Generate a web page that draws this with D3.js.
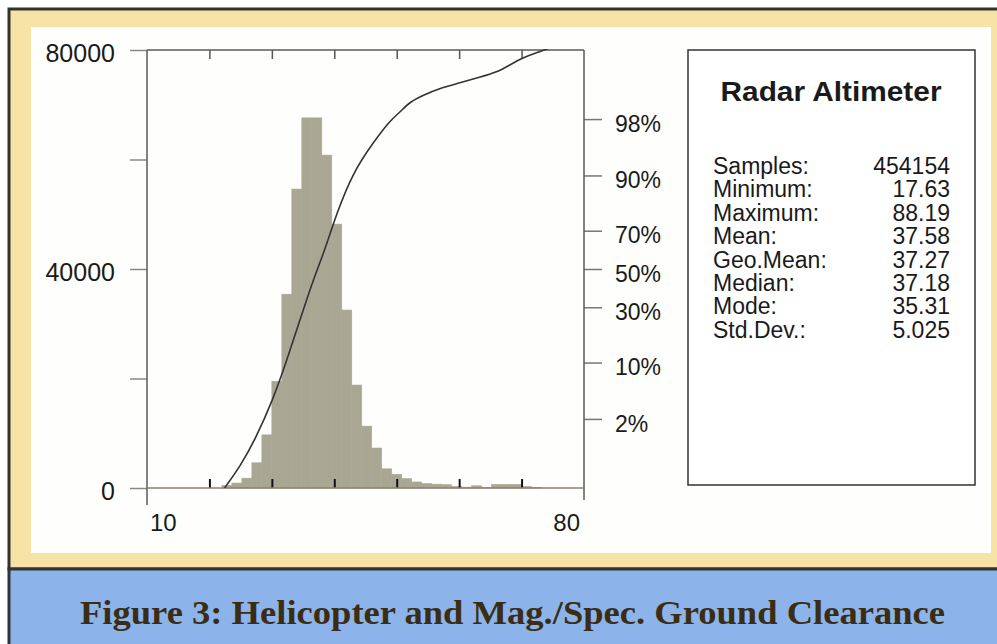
<!DOCTYPE html>
<html>
<head>
<meta charset="utf-8">
<script src="https://cdn.jsdelivr.net/npm/d3@7"></script>
<style>
  body { margin: 0; background: #fff; }
  svg { display: block; }
  text { font-family: "Liberation Sans", Arial, sans-serif; fill: #1a1a1a; }
</style>
</head>
<body>
<svg id="chart" width="997" height="644"></svg>
<script>
// histogram bins (altitude, lower edge) and sample counts
var binStart = [22.0, 23.6, 25.2, 26.8, 28.4, 30.0, 31.6, 33.2, 34.8, 36.4, 38.0, 39.6, 41.2, 42.8, 44.4, 46.0,
                47.6, 49.2, 50.8, 52.4, 54.0, 55.6, 57.2, 58.8, 60.4, 62.0, 63.6, 65.2, 66.8, 68.4, 70.0, 71.6];
var binCount = [500, 900, 1800, 4600, 9700, 19500, 35400, 54600, 67600, 67600, 60800, 48200, 32500, 18800, 11300, 7300,
                3500, 2500, 1700, 1100, 800, 700, 600, 300, 150, 400, 100, 650, 650, 650, 300, 100];
var binWidth = 1.6;

// cumulative curve
var cdfX   = [21.5, 22.5, 24.9, 27.3, 30.2, 32.4, 34.5, 36.6, 38.5, 40.4, 43.0, 46.2, 48.9, 50.5, 52.1, 54.2,
              56.9, 60.1, 63.3, 66.1, 68.1, 70.2, 72.5, 74.1, 76.0];
var cdfPct = [0.09, 0.14, 0.34, 0.96, 3.7, 10.6, 24.2, 44.0, 60.3, 77.9, 90.7, 95.8, 97.9, 98.4, 98.9, 99.13,
              99.34, 99.46, 99.57, 99.65, 99.74, 99.81, 99.85, 99.87, 99.9];

var countTicks = [0, 20000, 40000, 60000, 80000];
var countLabels = [0, 40000, 80000];
var xTicks = [20, 30, 40, 50, 60, 70];
var xLabels = [10, 80];
var pctTicks = [2, 10, 30, 50, 70, 90, 98];

var statTitle = "Radar Altimeter";
var statNames = ["Samples:", "Minimum:", "Maximum:", "Mean:", "Geo.Mean:", "Median:", "Mode:", "Std.Dev.:"];
var statValues = ["454154", "17.63", "88.19", "37.58", "37.27", "37.18", "35.31", "5.025"];

var caption = "Figure 3: Helicopter and Mag./Spec. Ground Clearance";

// inverse normal cdf (Acklam)
function probit(p) {
  var a = [-3.969683028665376e+01, 2.209460984245205e+02, -2.759285104469687e+02, 1.383577518672690e+02, -3.066479806614716e+01, 2.506628277459239e+00];
  var b = [-5.447609879822406e+01, 1.615858368580409e+02, -1.556989798598866e+02, 6.680131188771972e+01, -1.328068155288572e+01];
  var c = [-7.784894002430293e-03, -3.223964580411365e-01, -2.400758277161838e+00, -2.549732539343734e+00, 4.374664141464968e+00, 2.938163982698783e+00];
  var d = [7.784695709041462e-03, 3.224671290700398e-01, 2.445134137142996e+00, 3.754408661907416e+00];
  var q, r;
  if (p < 0.02425) {
    q = Math.sqrt(-2 * Math.log(p));
    return (((((c[0]*q+c[1])*q+c[2])*q+c[3])*q+c[4])*q+c[5]) / ((((d[0]*q+d[1])*q+d[2])*q+d[3])*q+1);
  } else if (p > 1 - 0.02425) {
    q = Math.sqrt(-2 * Math.log(1 - p));
    return -(((((c[0]*q+c[1])*q+c[2])*q+c[3])*q+c[4])*q+c[5]) / ((((d[0]*q+d[1])*q+d[2])*q+d[3])*q+1);
  }
  q = p - 0.5; r = q * q;
  return (((((a[0]*r+a[1])*r+a[2])*r+a[3])*r+a[4])*r+a[5])*q / (((((b[0]*r+b[1])*r+b[2])*r+b[3])*r+b[4])*r+1);
}

var svg = d3.select("#chart");

// frame
svg.append("rect").attr("x", 9).attr("y", 9).attr("width", 995).attr("height", 560)
  .attr("fill", "#f7e3a6").attr("stroke", "#333").attr("stroke-width", 3);
svg.append("rect").attr("x", 31).attr("y", 27).attr("width", 960).attr("height", 526).attr("fill", "#fefefc");
svg.append("rect").attr("x", 9).attr("y", 569).attr("width", 995).attr("height", 80)
  .attr("fill", "#8db4ea").attr("stroke", "#333").attr("stroke-width", 3);

var pl = 147, pr = 584, pt = 50, pb = 488;

var x = d3.scaleLinear().domain([10, 80]).range([pl, pr]);
var y = d3.scaleLinear().domain([0, 80000]).range([pb, pt]);
var z = d3.scaleLinear().domain([-3, 3]).range([pb, pt]);

svg.append("clipPath").attr("id", "plot")
  .append("rect").attr("x", pl).attr("y", pt - 1).attr("width", pr - pl).attr("height", pb - pt + 1);

// bars
svg.append("g").selectAll("rect").data(binStart).join("rect")
  .attr("x", function(d) { return x(d); })
  .attr("y", function(d, i) { return y(binCount[i]); })
  .attr("width", function(d) { return x(d + binWidth) - x(d); })
  .attr("height", function(d, i) { return y(0) - y(binCount[i]); })
  .attr("fill", "#a9a793").attr("stroke", "#a9a793").attr("stroke-width", 0.6);

// left axis
var yAxis = svg.append("g").attr("transform", "translate(" + pl + ",0)")
  .call(d3.axisLeft(y).tickValues(countTicks).tickSize(17).tickPadding(15)
    .tickFormat(function(d) { return countLabels.indexOf(d) >= 0 ? d : ""; }));
yAxis.select(".domain").remove();
yAxis.selectAll("line").attr("stroke", "#888").attr("stroke-width", 1.5);
yAxis.selectAll("text").attr("font-size", 25).attr("dy", "0.46em").style("font-family", "Liberation Sans, Arial");

// right probability axis
var pAxis = svg.append("g").attr("transform", "translate(" + pr + ",0)")
  .call(d3.axisRight(z).tickValues(pctTicks.map(function(p) { return probit(p / 100); }))
    .tickSize(18).tickPadding(13)
    .tickFormat(function(d, i) { return pctTicks[i] + "%"; }));
pAxis.select(".domain").remove();
pAxis.selectAll("line").attr("stroke", "#777").attr("stroke-width", 1.5);
pAxis.selectAll("text").attr("font-size", 23).attr("dy", "0.53em").style("font-family", "Liberation Sans, Arial");

// top and bottom ticks
var tAxis = svg.append("g").attr("transform", "translate(0," + pt + ")")
  .call(d3.axisTop(x).tickValues(xTicks).tickSize(-9).tickFormat(""));
tAxis.select(".domain").remove();
tAxis.selectAll("line").attr("stroke", "#555").attr("stroke-width", 1.5);

var bAxis = svg.append("g").attr("transform", "translate(0," + pb + ")")
  .call(d3.axisBottom(x).tickValues(xTicks).tickSize(-9).tickFormat(""));
bAxis.select(".domain").remove();
bAxis.selectAll("line").attr("stroke", "#111").attr("stroke-width", 2);

svg.append("g").selectAll("text").data(xLabels).join("text")
  .attr("x", function(d, i) { return x(d) + (i === 0 ? 3 : -4); })
  .attr("y", 531)
  .attr("text-anchor", function(d, i) { return i === 0 ? "start" : "end"; })
  .attr("font-size", 24)
  .text(function(d) { return d; });

// plot frame lines
var frame = svg.append("g").attr("stroke", "#5a5a5a").attr("stroke-width", 1.5).attr("fill", "none");
frame.append("line").attr("x1", x(10)).attr("x2", x(80)).attr("y1", y(80000)).attr("y2", y(80000));
frame.append("line").attr("x1", x(10)).attr("x2", x(10)).attr("y1", y(80000)).attr("y2", y(0) + 17);
frame.append("line").attr("x1", x(80)).attr("x2", x(80)).attr("y1", y(80000)).attr("y2", y(0) + 12);
frame.append("line").attr("x1", x(10)).attr("x2", x(80)).attr("y1", y(0)).attr("y2", y(0)).attr("stroke", "#8a8272");

// cumulative curve
var line = d3.line()
  .x(function(d, i) { return x(d); })
  .y(function(d, i) { return z(probit(cdfPct[i] / 100)); })
  .curve(d3.curveBasis);
svg.append("path").datum(cdfX)
  .attr("clip-path", "url(#plot)")
  .attr("d", line)
  .attr("fill", "none").attr("stroke", "#333").attr("stroke-width", 1.6);

// statistics box
svg.append("rect").attr("x", 688).attr("y", 50).attr("width", 287).attr("height", 435)
  .attr("fill", "#fff").attr("stroke", "#333").attr("stroke-width", 1.5);
svg.append("text").attr("x", 831).attr("y", 101).attr("text-anchor", "middle")
  .attr("font-size", 27).attr("font-weight", "bold")
  .attr("textLength", 221).attr("lengthAdjust", "spacingAndGlyphs")
  .text(statTitle);
var stats = svg.append("g").attr("font-size", 23);
stats.selectAll("text.name").data(statNames).join("text").attr("class", "name")
  .attr("x", 713).attr("y", function(d, i) { return 174 + i * 23.4; })
  .text(function(d) { return d; });
stats.selectAll("text.val").data(statValues).join("text").attr("class", "val")
  .attr("x", 950).attr("y", function(d, i) { return 174 + i * 23.4; })
  .attr("text-anchor", "end")
  .text(function(d) { return d; });

// caption
svg.append("text").attr("x", 80).attr("y", 624)
  .attr("font-size", 34).attr("font-weight", "bold")
  .style("font-family", "Liberation Serif, 'Times New Roman', serif").style("fill", "#3b2d14")
  .attr("textLength", 865).attr("lengthAdjust", "spacingAndGlyphs")
  .text(caption);
</script>
</body>
</html>
